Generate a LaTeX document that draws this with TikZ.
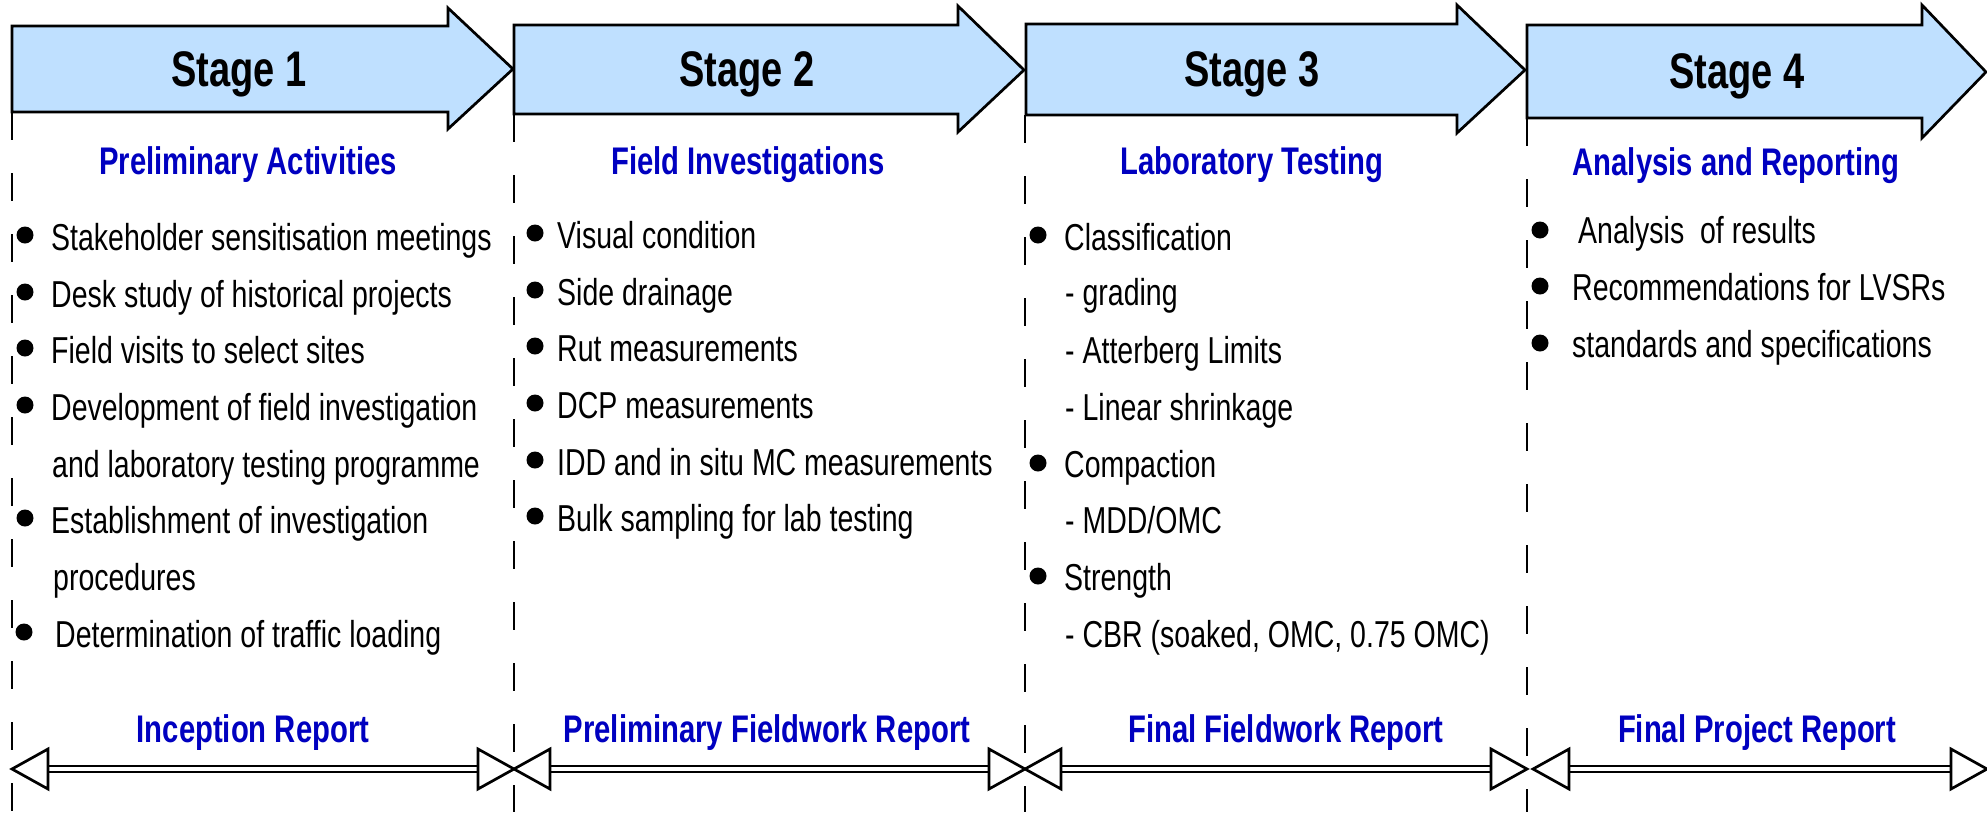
\documentclass[tikz,border=0pt]{standalone}
\usepackage{fontspec}
\setmainfont{Liberation Sans}[FakeStretch=0.76]
\definecolor{arrowblue}{RGB}{191,224,255}
\definecolor{headblue}{RGB}{0,0,192}
\begin{document}
\begin{tikzpicture}[x=1pt,y=-1pt,
  stagearrow/.style={draw=black,line width=2.7pt,fill=arrowblue,line join=miter},
  stagelabel/.style={font=\fontsize{50}{56}\selectfont\bfseries,anchor=base,inner sep=0},
  heading/.style={font=\fontsize{38.5}{44}\selectfont\bfseries,text=headblue,anchor=base,inner sep=0},
  item/.style={font=\fontsize{37.5}{44}\selectfont,anchor=base west,inner sep=0},
  bulletdot/.style={fill=black,circle,inner sep=0,minimum size=17pt},
  divider/.style={line width=2.5pt,dash pattern=on 28pt off 33pt},
  dblline/.style={double=white,double distance=3.3pt,line width=2.8pt},
  tri/.style={draw=black,fill=white,line width=2.7pt,line join=miter}
]
\useasboundingbox (0,0) rectangle (1987,812);

% dashed dividers
\coordinate (d1t) at (12,112);  \coordinate (d1b) at (12,812);
\coordinate (d2t) at (514,114); \coordinate (d2b) at (514,812);
\coordinate (d3t) at (1025,115);\coordinate (d3b) at (1025,812);
\coordinate (d4t) at (1527,118);\coordinate (d4b) at (1527,812);
\draw[divider] (d1t) -- (d1b);
\draw[divider] (d2t) -- (d2b);
\draw[divider] (d3t) -- (d3b);
\draw[divider] (d4t) -- (d4b);

% stage arrows
\draw[stagearrow] (12,26) -- (448,26) -- (448,8) -- (513,69) -- (448,129) -- (448,112) -- (12,112) -- cycle;
\draw[stagearrow] (514,25) -- (958,25) -- (958,6) -- (1024,70) -- (958,132) -- (958,114) -- (514,114) -- cycle;
\draw[stagearrow] (1026,24) -- (1457,24) -- (1457,5) -- (1525,70) -- (1457,133) -- (1457,115) -- (1026,115) -- cycle;
\draw[stagearrow] (1527,25) -- (1922,25) -- (1922,5) -- (1986,72) -- (1922,138) -- (1922,118) -- (1527,118) -- cycle;

\node[stagelabel] (s1) at (239,86) {Stage 1};
\node[stagelabel] (s2) at (747,86) {Stage 2};
\node[stagelabel] (s3) at (1252,86) {Stage 3};
\node[stagelabel] (s4) at (1737,88) {Stage 4};

% headings
\node[heading] (h1) at (248,174) {Preliminary Activities};
\node[heading] (h2) at (748,174) {Field Investigations};
\node[heading] (h3) at (1252,174) {Laboratory Testing};
\node[heading] (h4) at (1736,175) {Analysis and Reporting};

% stage 1 items
\node[bulletdot] (b11) at (25,235) {};
\node[item] (t11) at (51,250) {Stakeholder sensitisation meetings};
\node[bulletdot] (b12) at (25,292) {};
\node[item] (t12) at (51,307) {Desk study of historical projects};
\node[bulletdot] (b13) at (25,348) {};
\node[item] (t13) at (51,363) {Field visits to select sites};
\node[bulletdot] (b14) at (25,405) {};
\node[item] (t14) at (51,420) {Development of field investigation};
\node[item] (t15) at (52,477) {and laboratory testing programme};
\node[bulletdot] (b16) at (25,518) {};
\node[item] (t16) at (51,533) {Establishment of investigation};
\node[item] (t17) at (53,590) {procedures};
\node[bulletdot] (b18) at (24,632) {};
\node[item] (t18) at (55,647) {Determination of traffic loading};

% stage 2 items
\node[bulletdot] (b21) at (535,233) {};
\node[item] (t21) at (557,248) {Visual condition};
\node[bulletdot] (b22) at (535,290) {};
\node[item] (t22) at (557,305) {Side drainage};
\node[bulletdot] (b23) at (535,346) {};
\node[item] (t23) at (557,361) {Rut measurements};
\node[bulletdot] (b24) at (535,403) {};
\node[item] (t24) at (557,418) {DCP measurements};
\node[bulletdot] (b25) at (535,460) {};
\node[item] (t25) at (557,475) {IDD and in situ MC measurements};
\node[bulletdot] (b26) at (535,516) {};
\node[item] (t26) at (557,531) {Bulk sampling for lab testing};

% stage 3 items
\node[bulletdot] (b31) at (1038,235) {};
\node[item] (t31) at (1064,250) {Classification};
\node[item] (t32) at (1065,305) {- grading};
\node[item] (t33) at (1065,363) {- Atterberg Limits};
\node[item] (t34) at (1065,420) {- Linear shrinkage};
\node[bulletdot] (b35) at (1038,463) {};
\node[item] (t35) at (1064,477) {Compaction};
\node[item] (t36) at (1065,533) {- MDD/OMC};
\node[bulletdot] (b37) at (1038,576) {};
\node[item] (t37) at (1064,590) {Strength};
\node[item] (t38) at (1065,647) {- CBR (soaked, OMC, 0.75 OMC)};

% stage 4 items
\node[bulletdot] (b41) at (1540,230) {};
\node[item] (t41) at (1578,243) {Analysis\ \ of results};
\node[bulletdot] (b42) at (1540,286) {};
\node[item] (t42) at (1572,300) {Recommendations for LVSRs};
\node[bulletdot] (b43) at (1540,343) {};
\node[item] (t43) at (1572,357) {standards and specifications};

% report spans
\coordinate (p0) at (12,769);
\coordinate (p1) at (514,769);
\coordinate (p2) at (1025,769);
\coordinate (p3) at (1527,769);
\coordinate (p3b) at (1533,769);
\coordinate (p4) at (1987,769);

\draw[dblline] ([xshift=30pt]p0) -- ([xshift=-30pt]p1);
\draw[dblline] ([xshift=30pt]p1) -- ([xshift=-30pt]p2);
\draw[dblline] ([xshift=30pt]p2) -- ([xshift=-30pt]p3);
\draw[dblline] ([xshift=30pt]p3b) -- ([xshift=-30pt]p4);

\foreach \a/\b in {p0/p1,p1/p2,p2/p3,p3b/p4}{
  \draw[tri] (\a) -- ++(36,-20) -- ++(0,40) -- cycle;
  \draw[tri] (\b) -- ++(-36,-20) -- ++(0,40) -- cycle;
}

\node[heading] (r1) at (253,742) {Inception Report};
\node[heading] (r2) at (767,742) {Preliminary Fieldwork Report};
\node[heading] (r3) at (1286,742) {Final Fieldwork Report};
\node[heading] (r4) at (1757,742) {Final Project Report};
\end{tikzpicture}
\end{document}
